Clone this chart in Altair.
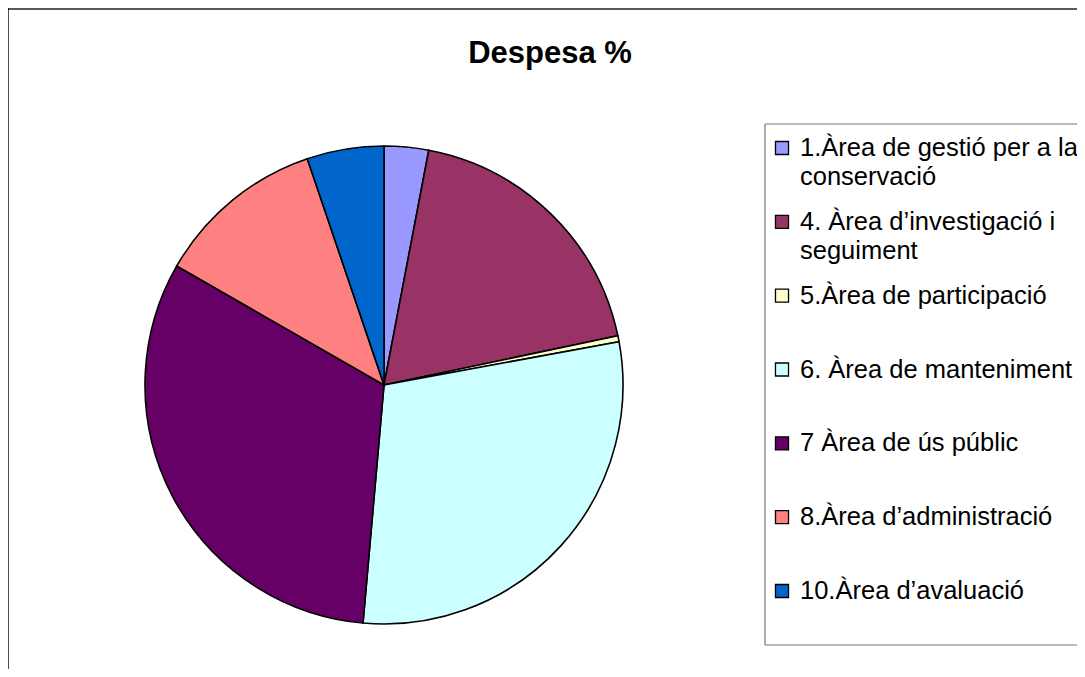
import altair as alt
import pandas as pd

categories = [
    "1.Àrea de gestió per a la conservació",
    "4. Àrea d’investigació i seguiment",
    "5.Àrea de participació",
    "6. Àrea de manteniment",
    "7 Àrea de ús públic",
    "8.Àrea d’administració",
    "10.Àrea d’avaluació",
]
label_line1 = [
    "1.Àrea de gestió per a la",
    "4. Àrea d’investigació i",
    "5.Àrea de participació",
    "6. Àrea de manteniment",
    "7 Àrea de ús públic",
    "8.Àrea d’administració",
    "10.Àrea d’avaluació",
]
label_line2 = ["conservació", "seguiment", "", "", "", "", ""]
values = [3.0, 18.7, 0.4, 29.3, 31.9, 11.5, 5.2]
colors = ["#9999FF", "#993366", "#FFFFCC", "#CCFFFF", "#660066", "#FF8080", "#0066CC"]

df = pd.DataFrame({
    "category": categories,
    "line1": label_line1,
    "line2": label_line2,
    "value": values,
    "idx": list(range(len(categories))),
})

FONT = "Liberation Sans"
W, H = 1069, 661

color = alt.Color("category:N", scale=alt.Scale(domain=categories, range=colors), legend=None)
yleg = alt.Y("category:N", scale=alt.Scale(domain=categories, range=[140, 583], type="point", padding=0), axis=None)

base = alt.Chart(df)

pie = base.mark_arc(radius=239, stroke="black", strokeWidth=1.6).encode(
    theta=alt.Theta("value:Q", stack=True),
    order=alt.Order("idx:Q"),
    color=color,
    x=alt.value(376),
    y=alt.value(377),
)

squares = base.mark_point(shape="square", filled=True, size=170, stroke="black", strokeWidth=1.3, opacity=1).encode(
    x=alt.value(774),
    y=yleg,
    fill=color,
)

text1 = base.mark_text(align="left", baseline="middle", font=FONT, fontSize=25.5, color="black").encode(
    x=alt.value(792),
    y=yleg,
    text="line1:N",
)
text2 = base.mark_text(align="left", baseline="middle", font=FONT, fontSize=25.5, color="black", dy=29).encode(
    x=alt.value(792),
    y=yleg,
    text="line2:N",
)

title = alt.Chart(pd.DataFrame({"t": ["Despesa %"]})).mark_text(
    align="center", baseline="alphabetic", font=FONT, fontSize=31, fontWeight="bold", color="black"
).encode(x=alt.value(542), y=alt.value(55), text="t:N")

one = pd.DataFrame({"a": [0]})
frame_top = alt.Chart(one).mark_rule(color="#222222", strokeWidth=1.5).encode(
    x=alt.value(0), x2=alt.value(W), y=alt.value(1)
)
frame_left = alt.Chart(one).mark_rule(color="#111111", strokeWidth=1.5).encode(
    x=alt.value(0), y=alt.value(0), y2=alt.value(H)
)
leg_top = alt.Chart(one).mark_rule(color="#777777", strokeWidth=1.2).encode(
    x=alt.value(757), x2=alt.value(W), y=alt.value(116)
)
leg_bottom = alt.Chart(one).mark_rule(color="#777777", strokeWidth=1.2).encode(
    x=alt.value(757), x2=alt.value(W), y=alt.value(637)
)
leg_left = alt.Chart(one).mark_rule(color="#777777", strokeWidth=1.2).encode(
    x=alt.value(757), y=alt.value(116), y2=alt.value(637)
)

chart = alt.layer(
    frame_top, frame_left, leg_top, leg_bottom, leg_left, pie, squares, text1, text2, title
).properties(
    width=W, height=H, padding=0, autosize=alt.AutoSizeParams(type="none")
).configure_view(stroke=None).resolve_scale(y="shared")

chart.save("out.html", embed_options={"renderer": "svg", "actions": False})
